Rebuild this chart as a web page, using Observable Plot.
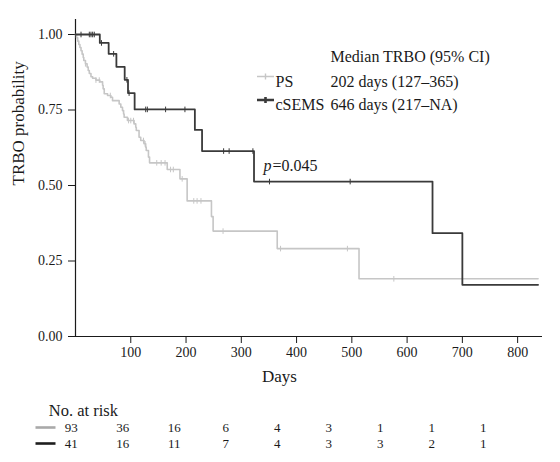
<!DOCTYPE html>
<html><head><meta charset="utf-8">
<script src="https://cdn.jsdelivr.net/npm/d3@7"></script>
<script src="https://cdn.jsdelivr.net/npm/@observablehq/plot@0.6"></script>
<style>
body{margin:0;background:#fff;}
#chart{width:560px;height:462px;}
#chart svg{display:block;}
</style></head><body><div id="chart"></div>
<script>
// ---- data ----
const groups = ["PS", "cSEMS"];
const lineColors = ["#c6c6c6", "#3a3a3a"];
const riskColors = ["#a9a9a9", "#1e1e1e"];

const psTime = [0,2,4,6,8,10,12,14,15,18,21,23,25,28,31,37,44,49,50,52,58,64,67,79,82,85,87,88,94,106,109,110,115,118,124,127,128,132,134,166,189,202,246,249,365,513,837];
const psSurv = [1,0.989,0.978,0.967,0.957,0.946,0.935,0.924,0.914,0.903,0.892,0.881,0.871,0.86,0.855,0.849,0.843,0.832,0.82,0.804,0.798,0.792,0.781,0.77,0.759,0.748,0.737,0.726,0.715,0.704,0.693,0.682,0.66,0.649,0.638,0.627,0.616,0.594,0.575,0.553,0.522,0.449,0.397,0.349,0.291,0.191,0.191];
const psCensor = [18,37,43,63,96,100,105,123,126,147,155,162,172,177,193,214,220,227,267,371,492,576];

const csTime = [0,44,60,74,89,95,107,216,229,323,646,700,837];
const csSurv = [1,0.972,0.936,0.893,0.85,0.806,0.752,0.684,0.614,0.513,0.342,0.171,0.171];
const csCensor = [10,25,28,31,34,47,69,93,97,127,130,163,198,268,278,321,351,497];

const xTicks = [100,200,300,400,500,600,700,800];
const yTicks = [0,0.25,0.5,0.75,1];

const legendTitle = "Median TRBO (95% CI)";
const legendMedians = ["202 days (127\u2013365)", "646 days (217\u2013NA)"];
const pLabel = "=0.045";

const riskTimes = [0,100,200,300,400,500,600,700,800];
const riskPS = [93,36,16,6,4,3,1,1,1];
const riskCS = [41,16,11,7,4,3,3,2,1];

// ---- derived tables ----
const steps = (T, S) => T.map((t, i) => ({t, s: S[i]}));
const survAt = (T, S, t) => { let v = S[0]; for (let i = 0; i < T.length; i++) if (T[i] <= t) v = S[i]; return v; };
const psData = steps(psTime, psSurv);
const csData = steps(csTime, csSurv);
const psC = psCensor.map(t => ({t, s: survAt(psTime, psSurv, t)}));
const csC = csCensor.map(t => ({t, s: survAt(csTime, csSurv, t)}));

const vtick = {draw(ctx){ ctx.moveTo(0,-2.8); ctx.lineTo(0,2.8); }};
const legSym = {draw(ctx){ ctx.moveTo(-8.5,0); ctx.lineTo(8.5,0); ctx.moveTo(0,-3); ctx.lineTo(0,3); }};
const riskSym = {draw(ctx){ ctx.moveTo(-10,0); ctx.lineTo(10,0); }};

const font = "'Liberation Serif', 'Times New Roman', serif";
const ink = "#1a1a1a";

const legendMarks = [];
legendMarks.push(Plot.text([legendTitle], {frameAnchor:"top-left", dx:255, dy:16, textAnchor:"start", fontSize:16, fill:ink}));
groups.forEach((g, i) => {
  const dy = 41 + i * 23.5;
  legendMarks.push(Plot.dot([g], {frameAnchor:"top-left", dx:190, dy:dy+1, symbol:legSym, stroke:lineColors[i], strokeWidth: i ? 2.6 : 1.4, fill:"none"}));
  legendMarks.push(Plot.text([g], {frameAnchor:"top-left", dx:200, dy, textAnchor:"start", fontSize:16, fill:ink}));
  legendMarks.push(Plot.text([legendMedians[i]], {frameAnchor:"top-left", dx:255, dy, textAnchor:"start", fontSize:16, fill:ink}));
});

const main = Plot.plot({
  width: 560, height: 392,
  marginLeft: 75, marginRight: 18, marginTop: 34, marginBottom: 56,
  style: {fontFamily: font, fontSize: "14px", color: ink, background: "#fff"},
  x: {domain: [0, 845]},
  y: {domain: [0, 1]},
  marks: [
    Plot.ruleY([0], {stroke: ink, strokeWidth: 1.2}),
    Plot.ruleX([0], {y1: 0, y2: 1.05, stroke: ink, strokeWidth: 1.2}),
    Plot.axisY({ticks: yTicks, tickFormat: ".2f", tickSize: 7, tickPadding: 6, label: null, fontSize: 14, stroke: ink}),
    Plot.axisX({ticks: xTicks, tickSize: 7, tickPadding: 4, label: null, fontSize: 14, stroke: ink}),
    Plot.line(psData, {x: "t", y: "s", curve: "step-after", stroke: lineColors[0], strokeWidth: 1.6}),
    Plot.dot(psC, {x: "t", y: "s", symbol: vtick, stroke: lineColors[0], fill: "none", strokeWidth: 1}),
    Plot.line(csData, {x: "t", y: "s", curve: "step-after", stroke: lineColors[1], strokeWidth: 1.8}),
    Plot.dot(csC, {x: "t", y: "s", symbol: vtick, stroke: lineColors[1], fill: "none", strokeWidth: 1}),
    Plot.text(["TRBO probability"], {frameAnchor: "left", rotate: -90, dx: -56.5, fontSize: 17, fill: ink}),
    Plot.text(["Days"], {frameAnchor: "bottom", dx: -29.5, dy: 45, fontSize: 17, fill: ink}),
    Plot.text(["p"], {frameAnchor: "top-left", dx: 188, dy: 125, textAnchor: "start", fontSize: 16, fontStyle: "italic", fill: ink}),
    Plot.text([pLabel], {frameAnchor: "top-left", dx: 197, dy: 125, textAnchor: "start", fontSize: 16, fill: ink}),
    ...legendMarks
  ]
});

const riskRows = [
  ...riskTimes.map((t, i) => ({t, g: groups[0], n: riskPS[i]})),
  ...riskTimes.map((t, i) => ({t, g: groups[1], n: riskCS[i]}))
];

const risk = Plot.plot({
  width: 560, height: 70,
  marginLeft: 70.7, marginRight: 77.3, marginTop: 34.7, marginBottom: 18.7,
  style: {fontFamily: font, fontSize: "13px", color: ink, background: "#fff"},
  x: {domain: [0, 800], axis: null},
  y: {type: "point", domain: groups, padding: 0, axis: null},
  marks: [
    Plot.text(riskRows, {x: "t", y: "g", text: "n", fontSize: 13, fill: ink}),
    ...groups.map((g, i) => Plot.dot([g], {y: d => d, frameAnchor: "left", dx: -25.7, symbol: riskSym, stroke: riskColors[i], strokeWidth: 2.6, fill: "none"})),
    Plot.text(["No. at risk"], {frameAnchor: "top-left", dx: -22.4, dy: -23.4, textAnchor: "start", fontSize: 16.5, fill: ink})
  ]
});

const root = document.getElementById("chart");
root.appendChild(main);
root.appendChild(risk);
</script>
</body></html>
